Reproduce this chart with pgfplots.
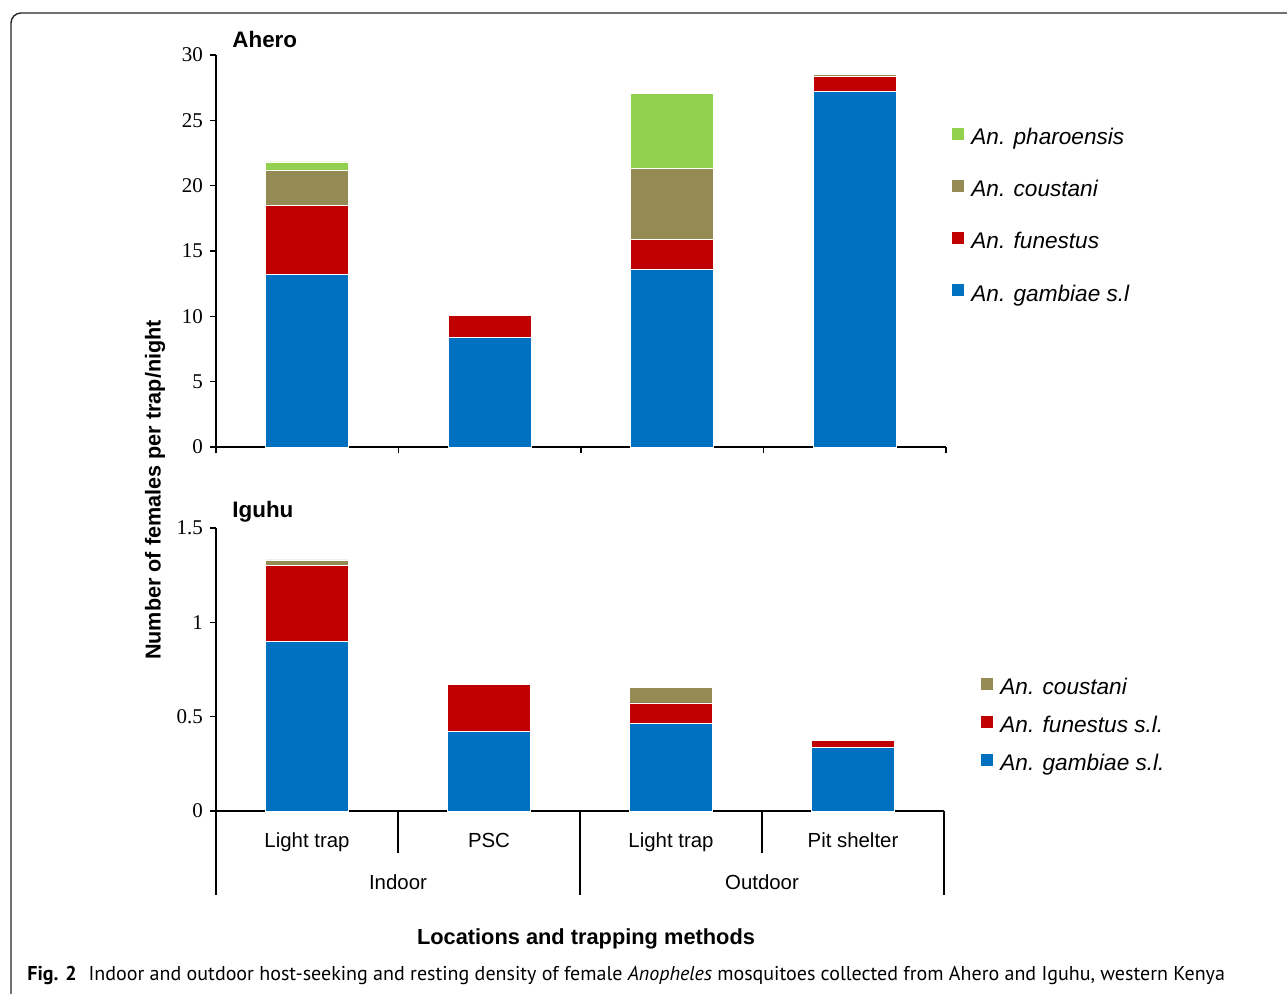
\documentclass[border=0pt]{standalone}
\usepackage{pgfplots}
\pgfplotsset{compat=1.18}
\usepackage{fontspec}
\setmainfont{Liberation Sans}
\newfontfamily\tickfont{Liberation Serif}
\newfontfamily\capfont{PT Sans}
\definecolor{cgam}{HTML}{0070C0}
\definecolor{cfun}{HTML}{C00000}
\definecolor{ccou}{HTML}{948A54}
\definecolor{cpha}{HTML}{92D050}
\pgfplotsset{
  sqleg/.style={legend image code/.code={\fill[##1,draw=none] (0pt,-0.4pt) rectangle (6pt,5.6pt);}},
  myax/.style={
    scale only axis, ybar stacked, bar width=0.455,
    xmin=-0.5, xmax=3.5, ymin=0,
    axis x line*=bottom, axis y line*=left,
    axis line style={line width=0.9pt, black},
    tick style={black, line width=0.8pt},
    major tick length=3pt, tick align=outside,
    yticklabel style={font=\tickfont\fontsize{10.5}{12}\selectfont},
    /pgf/number format/assume math mode=true,
    legend cell align=left, reverse legend,
    clip=false,
  },
  barst/.style={draw=white, line width=0.3pt, sqleg},
}
\begin{document}
\begin{tikzpicture}
\useasboundingbox (0pt,0pt) rectangle (643.5pt,496.5pt);
\clip (0pt,0pt) rectangle (643.5pt,496.5pt);
\draw[black!85, line width=0.7pt, rounded corners=5pt] (5.5pt,-20pt) -- (5.5pt,490pt) -- (700pt,490pt);

% ---------- Ahero ----------
\begin{axis}[myax,
  at={(108pt,273pt)}, anchor=south west,
  width=365pt, height=196pt,
  ymax=30, ytick={0,5,...,30},
  xtick={-0.5,0.5,1.5,2.5,3.5}, xticklabels={},
  legend style={at={(1.0082,0.816)}, anchor=north west, draw=none, fill=none,
    inner sep=0pt, row sep=15.3pt, column sep=3.5pt,
    font=\itshape\fontsize{11.3}{13}\selectfont,
    nodes={inner sep=0pt, text height=8pt, text depth=2.5pt}},
]
\addplot[fill=cgam, barst] coordinates {(0,13.24) (1,8.40) (2,13.60) (3,27.22)};
\addplot[fill=cfun, barst] coordinates {(0,5.23) (1,1.66) (2,2.27) (3,1.14)};
\addplot[fill=ccou, barst] coordinates {(0,2.67) (1,0) (2,5.43) (3,0.14)};
\addplot[fill=cpha, barst] coordinates {(0,0.68) (1,0) (2,5.75) (3,0)};
\legend{An. gambiae s.l, An. funestus, An. coustani, An. pharoensis}
\end{axis}

% ---------- Iguhu ----------
\begin{axis}[myax,
  at={(108pt,91pt)}, anchor=south west,
  width=364pt, height=141.5pt,
  ymax=1.5, ytick={0,0.5,1,1.5},
  xtick={0,1,2,3}, xticklabels={Light trap, PSC, Light trap, Pit shelter},
  x tick style={draw=none},
  xticklabel style={anchor=base, yshift=-15pt, font=\fontsize{10.2}{12}\selectfont},
  legend style={at={(1.0508,0.473)}, anchor=north west, draw=none, fill=none,
    inner sep=0pt, row sep=8.25pt, column sep=3.5pt,
    font=\itshape\fontsize{11.3}{13}\selectfont,
    nodes={inner sep=0pt, text height=8pt, text depth=2.5pt}},
]
\addplot[fill=cgam, barst] coordinates {(0,0.898) (1,0.4235) (2,0.464) (3,0.339)};
\addplot[fill=cfun, barst] coordinates {(0,0.404) (1,0.2485) (2,0.1095) (3,0.035)};
\addplot[fill=ccou, barst] coordinates {(0,0.029) (1,0) (2,0.0825) (3,0)};
\legend{An. gambiae s.l., An. funestus s.l., An. coustani}
\draw[black, line width=0.8pt] (axis cs:-0.5,0) -- ++(0pt,-42pt);
\draw[black, line width=0.8pt] (axis cs:0.5,0) -- ++(0pt,-21pt);
\draw[black, line width=0.8pt] (axis cs:1.5,0) -- ++(0pt,-42pt);
\draw[black, line width=0.8pt] (axis cs:2.5,0) -- ++(0pt,-21pt);
\draw[black, line width=0.8pt] (axis cs:3.5,0) -- ++(0pt,-42pt);
\node[anchor=base, font=\fontsize{10.2}{12}\selectfont] at ([yshift=-39pt]axis cs:0.5,0) {Indoor};
\node[anchor=base, font=\fontsize{10.2}{12}\selectfont] at ([yshift=-39pt]axis cs:2.5,0) {Outdoor};
\end{axis}

\node[anchor=base west, inner sep=0pt, font=\bfseries\fontsize{11.2}{13}\selectfont] at (116pt,472.5pt) {Ahero};
\node[anchor=base west, inner sep=0pt, font=\bfseries\fontsize{11.2}{13}\selectfont] at (116pt,238pt) {Iguhu};
\node[rotate=90, font=\bfseries\fontsize{10.8}{13}\selectfont] at (77.5pt,251.5pt) {Number of females per trap/night};
\node[anchor=base, font=\bfseries\fontsize{10.9}{13}\selectfont] at (293pt,24.5pt) {Locations and trapping methods};
\node[anchor=base west, inner sep=0pt, font=\capfont\fontsize{10}{12}\selectfont] at (13.5pt,6.5pt)
  {{\bfseries Fig. 2}\hspace{0.6em}Indoor and outdoor host-seeking and resting density of female \textit{Anopheles} mosquitoes collected from Ahero and Iguhu, western Kenya};
\end{tikzpicture}
\end{document}
